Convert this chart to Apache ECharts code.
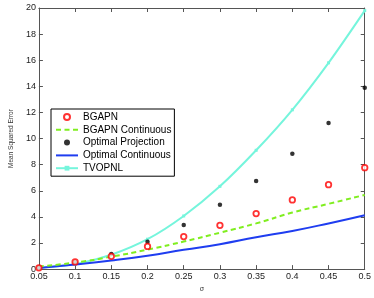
<!DOCTYPE html>
<html>
<head>
<meta charset="utf-8">
<script src="https://cdn.jsdelivr.net/npm/echarts@6/dist/echarts.min.js"></script>
<style>html,body{margin:0;padding:0;background:#fff}#c{width:374px;height:298px}</style>
</head>
<body>
<div id="c"></div>
<script>
const sigma = [0.05, 0.1, 0.15, 0.2, 0.25, 0.3, 0.35, 0.4, 0.45, 0.5];
const bgapn = [0.1, 0.55, 0.98, 1.74, 2.49, 3.35, 4.25, 5.3, 6.47, 7.77];
const bgapnCont = [0.2, 0.5, 0.95, 1.49, 2.11, 2.79, 3.5, 4.33, 5.0, 5.68];
const optProj = [0.15, 0.55, 1.16, 2.1, 3.37, 4.93, 6.74, 8.83, 11.2, 13.9];
const optCont = [0.08, 0.35, 0.66, 1.03, 1.48, 1.91, 2.44, 2.92, 3.5, 4.13];
const tvopnl = [0.1, 0.38, 1.1, 2.29, 4.07, 6.34, 9.1, 12.2, 15.8, 19.8];

const pairs = ys => sigma.map((x, i) => [x, ys[i]]);
const font = 'Liberation Sans, Arial, Helvetica, sans-serif';
const axisColor = '#555';

const chart = echarts.init(document.getElementById('c'));
chart.setOption({
  animation: false,
  backgroundColor: '#fff',
  textStyle: { fontFamily: font },
  grid: { left: 26, right: 9, top: 8, bottom: 25 },
  legend: {
    orient: 'vertical',
    left: 51, top: 109,
    backgroundColor: '#fff',
    borderColor: '#000', borderWidth: 1,
    padding: [3, 3, 3, 4],
    itemWidth: 22, itemHeight: 6, itemGap: 2.8,
    textStyle: { fontSize: 10, color: '#000', fontFamily: font },
    data: [
      { name: 'BGAPN' },
      { name: 'BGAPN Continuous', itemStyle: { opacity: 0 } },
      { name: 'Optimal Projection' },
      { name: 'Optimal Continuous', itemStyle: { opacity: 0 } },
      { name: 'TVOPNL' }
    ]
  },
  xAxis: [{
    type: 'value', min: 0.05, max: 0.5, interval: 0.05,
    name: 'σ', nameLocation: 'middle', nameGap: 15,
    nameTextStyle: { fontSize: 7, color: '#333' },
    axisLine: { onZero: false, lineStyle: { color: axisColor } },
    axisTick: { inside: true, length: 4, lineStyle: { color: axisColor } },
    axisLabel: { fontSize: 9, color: '#222', margin: 3,
      formatter: v => String(+v.toFixed(2)) },
    splitLine: { show: false }
  }, {
    type: 'value', position: 'top', min: 0.05, max: 0.5, interval: 0.05,
    axisLine: { onZero: false, lineStyle: { color: axisColor } },
    axisTick: { inside: true, length: 4, lineStyle: { color: axisColor } },
    axisLabel: { show: false }, splitLine: { show: false }
  }],
  yAxis: [{
    type: 'value', min: 0, max: 20, interval: 2,
    name: 'Mean Squared Error', nameLocation: 'middle', nameGap: 21,
    nameTextStyle: { fontSize: 6.5, color: '#333' },
    axisLine: { show: true, onZero: false, lineStyle: { color: axisColor } },
    axisTick: { show: true, inside: true, length: 4, lineStyle: { color: axisColor } },
    axisLabel: { fontSize: 9, color: '#222', margin: 3 },
    splitLine: { show: false }
  }, {
    type: 'value', position: 'right', min: 0, max: 20, interval: 2,
    axisLine: { show: true, onZero: false, lineStyle: { color: axisColor } },
    axisTick: { show: true, inside: true, length: 4, lineStyle: { color: axisColor } },
    axisLabel: { show: false }, splitLine: { show: false }
  }],
  series: [
    { name: 'TVOPNL', type: 'line', data: pairs(tvopnl), smooth: 0.3, z: 2,
      symbol: 'rect', symbolSize: 3, showSymbol: true,
      lineStyle: { color: '#75f5dc', width: 2 }, itemStyle: { color: '#75f5dc' } },
    { name: 'Optimal Continuous', type: 'line', data: pairs(optCont), smooth: true, z: 3,
      symbol: 'none', lineStyle: { color: '#1f3df0', width: 2 }, itemStyle: { color: '#1f3df0' } },
    { name: 'BGAPN Continuous', type: 'line', data: pairs(bgapnCont), smooth: true, z: 4,
      symbol: 'none', lineStyle: { color: '#80ee20', width: 2, type: [5, 3.5] }, itemStyle: { color: '#80ee20' } },
    { name: 'Optimal Projection', type: 'scatter', data: pairs(optProj), z: 5,
      symbol: 'circle', symbolSize: 4.5, itemStyle: { color: '#000' } },
    { name: 'BGAPN', type: 'scatter', data: pairs(bgapn), z: 6,
      symbol: 'circle', symbolSize: 5.5,
      itemStyle: { color: '#fff', borderColor: '#ff0000', borderWidth: 1.8 } }
  ]
});
</script>
</body>
</html>
